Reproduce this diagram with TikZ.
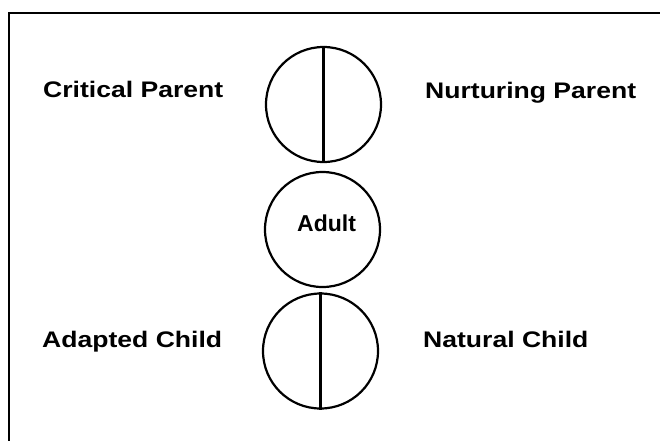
\documentclass[tikz,border=0pt]{standalone}
\usepackage{fontspec}
\setmainfont{Liberation Sans}
\newfontfamily\lblfont[FakeStretch=1.18]{Liberation Sans}
\begin{document}
\begin{tikzpicture}[x=1pt,y=-1pt,
  ego/.style={draw=black,line width=2.2pt,circle,minimum size=115pt,inner sep=0pt},
  divider/.style={draw=black,line width=2.2pt},
  lbl/.style={anchor=base west,inner sep=0pt,font=\lblfont\bfseries\fontsize{22.5}{26}\selectfont},
  frame/.style={draw=black,line width=2.2pt}]
\useasboundingbox (0,0) rectangle (660,440);
\fill[white] (0,0) rectangle (660,440);
% frame (extends beyond the picture on right and bottom)
\coordinate (ftl) at (9,13);
\coordinate (ftr) at (662,13);
\coordinate (fbl) at (9,442);
\draw[frame] (ftr) -- (ftl) -- (fbl);
% circles
\node[ego] (parent) at (323.5,104.5) {};
\node[ego] (adult) at (322.5,229.5) {};
\node[ego] (child) at (320.5,351) {};
\draw[divider] (parent.north) -- (parent.south);
\draw[divider] (child.north) -- (child.south);
% labels
\node[lbl] (cp) at (43,97) {Critical Parent};
\node[lbl] (np) at (425,98) {Nurturing Parent};
\node[anchor=base west,inner sep=0pt,font=\bfseries\fontsize{23}{27}\selectfont] (ad) at (297,231) {Adult};
\node[lbl] (ac) at (42,347) {Adapted Child};
\node[lbl] (nc) at (423,347) {Natural Child};
\end{tikzpicture}
\end{document}
